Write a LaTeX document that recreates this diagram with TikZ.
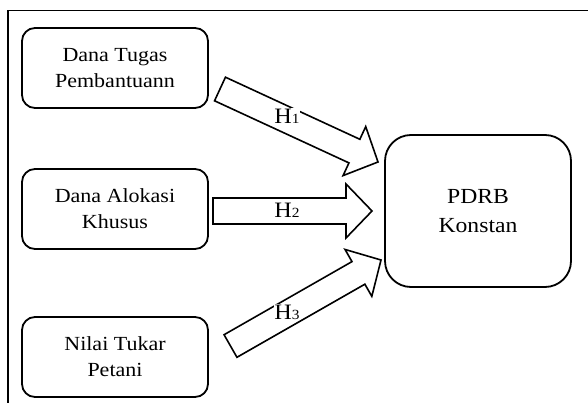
\documentclass[tikz,border=0pt]{standalone}
\usepackage{fontspec}
\setmainfont{Liberation Serif}[FakeStretch=1.1]
\usetikzlibrary{calc}
\begin{document}
\begin{tikzpicture}[x=1pt,y=-1pt,
  box/.style={draw,line width=1.8pt,rounded corners=13pt,minimum width=186pt,minimum height=80pt,align=center,font=\fontsize{20}{26}\selectfont,inner sep=0pt},
  bigbox/.style={draw,line width=1.8pt,rounded corners=26pt,minimum width=186pt,minimum height=152pt,align=center,font=\fontsize{21.5}{28.5}\selectfont,inner sep=0pt},
  blk/.style={draw,line width=1.6pt,fill=white,line join=miter},
  hlab/.style={fill=white,inner sep=0.5pt,font=\fontsize{22}{24}\selectfont}]
\useasboundingbox (0,0) rectangle (588,403);
\draw[line width=1.4pt] (8,403) -- (8,10.5) -- (588,10.5);

\node[box] (a) at (115,68) {Dana Tugas\\Pembantuann};
\node[box] (b) at (115,209) {Dana Alokasi\\Khusus};
\node[box] (c) at (115,357) {Nilai Tukar\\Petani};
\node[bigbox] (d) at (478,211) {PDRB\\Konstan};

% block arrow end points
\coordinate (t1) at (220,89);   \coordinate (p1) at (378,162);
\coordinate (t2) at (213,211);  \coordinate (p2) at (372,211);
\coordinate (t3) at (230.5,346);\coordinate (p3) at (381,260);

\foreach \i in {1,2,3}{
  \coordinate (h\i) at ($(p\i)!26pt!(t\i)$);
  \draw[blk] ($(t\i)!13pt!90:(p\i)$) -- ($(h\i)!13pt!-90:(t\i)$) -- ($(h\i)!27pt!-90:(t\i)$)
    -- (p\i) -- ($(h\i)!27pt!90:(t\i)$) -- ($(h\i)!13pt!90:(t\i)$) -- ($(t\i)!13pt!-90:(p\i)$) -- cycle;
}
\node[hlab] (l1) at (287,116) {H{\fontsize{14}{14}\selectfont 1}};
\node[hlab] (l2) at (287,210) {H{\fontsize{14}{14}\selectfont 2}};
\node[hlab] (l3) at (287,312) {H{\fontsize{14}{14}\selectfont 3}};
\end{tikzpicture}
\end{document}
